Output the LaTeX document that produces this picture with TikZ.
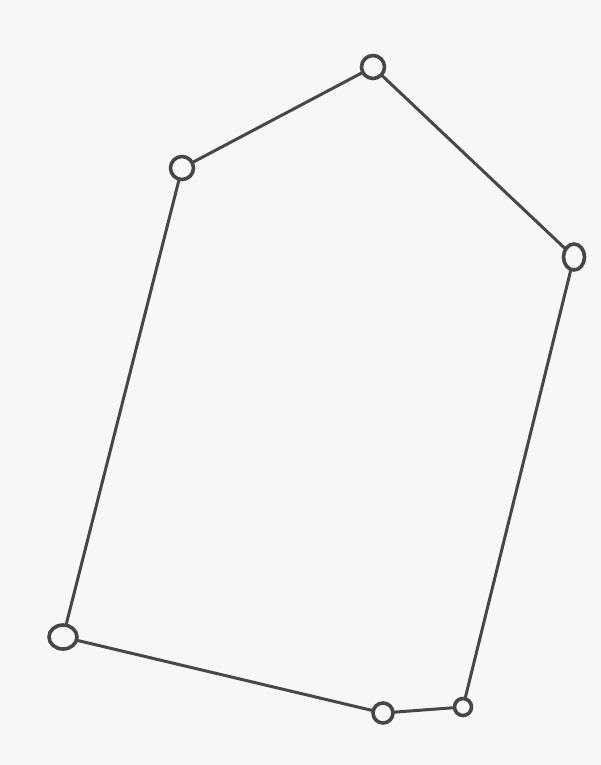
\documentclass[tikz,border=0pt]{standalone}
\usetikzlibrary{shapes.geometric}
\begin{document}
\begin{tikzpicture}[x=1pt,y=-1pt,
  vtx/.style={circle,draw=black!72,line width=3.6pt,inner sep=0pt,minimum size=#1},
  vtx/.default=23pt,
  edge/.style={draw=black!72,line width=3pt,line cap=round}]
\fill[black!3] (0,0) rectangle (601,765);
\useasboundingbox (0,0) rectangle (601,765);
\node[vtx] (a) at (373,67) {};
\node[vtx] (b) at (182,168) {};
\node[vtx,ellipse,minimum width=21pt,minimum height=26pt] (c) at (574,257) {};
\node[vtx,ellipse,minimum width=28pt,minimum height=24pt] (d) at (63,637) {};
\node[vtx,minimum size=20pt] (e) at (383,713) {};
\node[vtx,minimum size=17pt] (f) at (463,707) {};
\draw[edge] (a) -- (b);
\draw[edge] (a) -- (c);
\draw[edge] (b) -- (d);
\draw[edge] (c) -- (f);
\draw[edge] (d) -- (e);
\draw[edge] (e) -- (f);
\end{tikzpicture}
\end{document}
